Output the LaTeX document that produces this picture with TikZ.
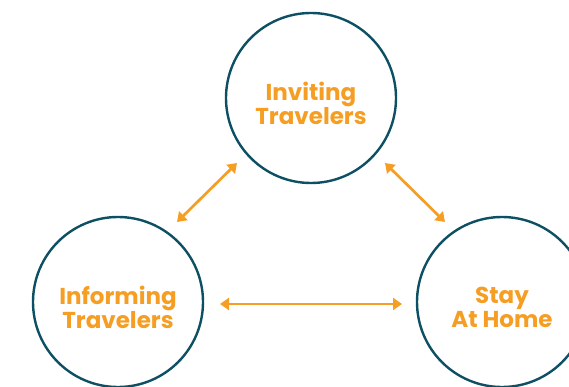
\documentclass[tikz,border=0pt]{standalone}
\usepackage{fontspec}
\setmainfont{Poppins}
\usetikzlibrary{arrows.meta}

\definecolor{ringteal}{RGB}{14,80,99}
\definecolor{labelorange}{RGB}{245,158,35}

\begin{document}
\begin{tikzpicture}[
  x=1pt,y=-1pt,
  ring/.style={circle,draw=ringteal,line width=2.4pt,minimum size=170pt,inner sep=0pt},
  label text/.style={text=labelorange,font=\bfseries\fontsize{23}{24}\selectfont,align=center},
  link/.style={draw=labelorange,line width=2.7pt,{Triangle[length=9pt,width=12pt]}-{Triangle[length=9pt,width=12pt]}}
]
  \useasboundingbox (0,0) rectangle (569,387);
  \begin{scope}
    \clip (0,0) rectangle (569,387);

    % Circles
    \node[ring] (inviting) at (311,98) {};
    \node[ring] (informing) at (118,302) {};
    \node[ring] (stay) at (502,302) {};

    % Labels
    \node[label text] (invitinglabel) at ([yshift=-5pt]inviting.center) {Inviting\\Travelers};
    \node[label text] (informinglabel) at ([yshift=-5pt]informing.center) {Informing\\Travelers};
    \node[label text] (staylabel) at ([yshift=-5pt]stay.center) {Stay\\At Home};
  \end{scope}

  % Arrow ends
  \coordinate (left top) at (237,163);
  \coordinate (left bottom) at (177,222);
  \coordinate (right top) at (385,163);
  \coordinate (right bottom) at (445,222);
  \coordinate (mid left) at (220,304);
  \coordinate (mid right) at (402,304);

  % Arrows
  \draw[link] (left bottom) -- (left top);
  \draw[link] (right top) -- (right bottom);
  \draw[link] (mid left) -- (mid right);
\end{tikzpicture}
\end{document}
